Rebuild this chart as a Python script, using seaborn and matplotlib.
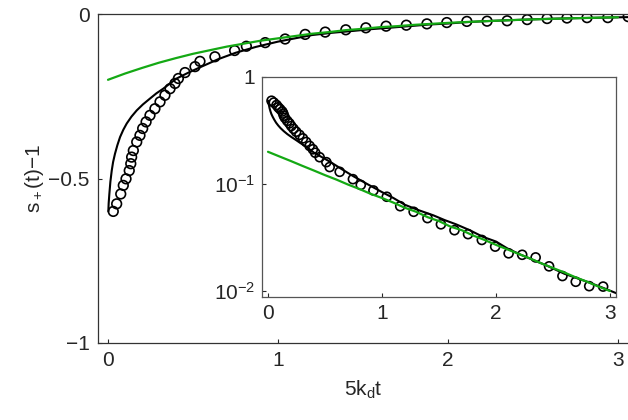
import numpy as np
import pandas as pd
import matplotlib
matplotlib.use("Agg")
import matplotlib.pyplot as plt
import seaborn as sns

# data (main panel shows s+(t)-1, inset shows 1-s+(t))
pts_x = [0.031, 0.051, 0.075, 0.090, 0.106, 0.125, 0.134, 0.139, 0.149, 0.169,
         0.188, 0.204, 0.224, 0.247, 0.276, 0.306, 0.335, 0.365, 0.394, 0.414,
         0.453, 0.512, 0.541, 0.629, 0.745, 0.814, 0.925, 1.042, 1.160, 1.278,
         1.399, 1.517, 1.636, 1.755, 1.876, 1.993, 2.111, 2.230, 2.348, 2.466,
         2.583, 2.700, 2.818, 2.940, 3.060]
pts_y = [-0.600, -0.577, -0.547, -0.521, -0.501, -0.476, -0.455, -0.435, -0.415, -0.389,
         -0.369, -0.348, -0.328, -0.308, -0.288, -0.267, -0.247, -0.227, -0.211, -0.196,
         -0.178, -0.160, -0.144, -0.130, -0.111, -0.098, -0.087, -0.076, -0.062, -0.055,
         -0.048, -0.042, -0.037, -0.034, -0.030, -0.026, -0.0225, -0.0218, -0.0206, -0.0170,
         -0.0138, -0.0122, -0.0111, -0.0110, -0.0080]

fit_x = [0.002, 0.004, 0.008, 0.014, 0.022, 0.030, 0.041, 0.055, 0.071, 0.090,
         0.110, 0.138, 0.169, 0.205, 0.247, 0.285, 0.325, 0.365, 0.404, 0.470,
         0.550, 0.650, 0.750, 0.870, 1.000, 1.100, 1.200, 1.320, 1.450, 1.550,
         1.650, 1.770, 1.888, 2.000, 2.100, 2.210, 2.327, 2.450, 2.600, 2.700,
         2.800, 2.930, 3.060]
fit_y = [-0.600, -0.575, -0.547, -0.510, -0.476, -0.450, -0.425, -0.399, -0.374, -0.352,
         -0.333, -0.312, -0.293, -0.275, -0.257, -0.241, -0.227, -0.211, -0.196, -0.179,
         -0.160, -0.137, -0.118, -0.100, -0.084, -0.074, -0.064, -0.057, -0.051, -0.046,
         -0.042, -0.037, -0.032, -0.029, -0.025, -0.022, -0.0195, -0.0172, -0.0145, -0.0133,
         -0.0122, -0.0108, -0.0095]

asym_x = [0.0, 0.1, 0.2, 0.3, 0.4, 0.5, 0.6, 0.7, 0.8, 0.9, 1.0,
          1.1, 1.2, 1.3, 1.4, 1.5, 1.6, 1.7, 1.8, 1.9, 2.0,
          2.1, 2.2, 2.3, 2.4, 2.5, 2.6, 2.7, 2.8, 2.9, 3.0]
asym_y = [-0.200, -0.181, -0.164, -0.148, -0.134, -0.121, -0.110, -0.099, -0.090, -0.081, -0.074,
          -0.067, -0.060, -0.055, -0.049, -0.045, -0.040, -0.037, -0.033, -0.030, -0.027,
          -0.0245, -0.0222, -0.0201, -0.0181, -0.0164, -0.0149, -0.0134, -0.0122, -0.0110, -0.0100]

pts = pd.DataFrame({"x": pts_x, "y": pts_y})
fit = pd.DataFrame({"x": fit_x, "y": fit_y})
asym = pd.DataFrame({"x": asym_x, "y": asym_y})
pts["ly"] = -pts["y"]
fit["ly"] = -fit["y"]
asym["ly"] = -asym["y"]

sns.set_style("ticks")
plt.rcParams["font.family"] = ["Liberation Sans", "DejaVu Sans"]
plt.rcParams["mathtext.fontset"] = "custom"
plt.rcParams["mathtext.rm"] = "Liberation Sans"
plt.rcParams["mathtext.it"] = "Liberation Sans"
plt.rcParams["axes.unicode_minus"] = True

green = "#14a914"
fs = 15

fig = plt.figure(figsize=(6.28, 4.2), dpi=100)
ax = fig.add_axes([98 / 628, 77 / 420, 1 - 98 / 628, 329 / 420])

sns.lineplot(data=fit, x="x", y="y", ax=ax, color="black", lw=1.5,
             sort=False, estimator=None)
sns.lineplot(data=asym, x="x", y="y", ax=ax, color=green, lw=1.6,
             sort=False, estimator=None)
sns.scatterplot(data=pts, x="x", y="y", ax=ax, s=48, marker="o",
                facecolor="none", edgecolor="black", linewidth=1.2)

ax.set_xlim(-0.0588, 3.059)
ax.set_ylim(-1, 0)
ax.set_xticks([0, 1, 2, 3])
ax.set_xticklabels(["0", "1", "2", "3"])
ax.set_yticks([-1, -0.5, 0])
ax.set_yticklabels(["\u22121", "\u22120.5", "0"])
ax.tick_params(direction="in", length=3, width=0.8, labelsize=fs, pad=6)
ax.spines["right"].set_visible(False)
for s in ["left", "bottom", "top"]:
    ax.spines[s].set_linewidth(0.9)
    ax.spines[s].set_color("#333333")
ax.set_xlabel(r"5k$_\mathregular{d}$t", fontsize=fs, labelpad=6)
ax.set_ylabel(r"s$_+$(t)$-$1", fontsize=fs, labelpad=2)

# inset on log scale
ins = fig.add_axes([262 / 628, 123 / 420, 354 / 628, 220 / 420])
ins.set_yscale("log")
sns.lineplot(data=fit, x="x", y="ly", ax=ins, color="black", lw=1.5,
             sort=False, estimator=None)
sns.lineplot(data=asym, x="x", y="ly", ax=ins, color=green, lw=1.6,
             sort=False, estimator=None)
sns.scatterplot(data=pts[pts["x"] < 3.0], x="x", y="ly", ax=ins, s=42, marker="o",
                facecolor="none", edgecolor="black", linewidth=1.2)
ins.set_xlim(-0.0526, 3.053)
ins.set_ylim(10 ** -2.056, 1)
ins.set_xticks([0, 1, 2, 3])
ins.set_xticklabels(["0", "1", "2", "3"])
ins.set_yticks([0.01, 0.1, 1])
ins.set_yticklabels([r"10$^{-2}$", r"10$^{-1}$", "1"])
ins.minorticks_off()
ins.tick_params(direction="in", length=3, width=0.8, labelsize=fs, pad=5)
ins.set_xlabel("")
ins.set_ylabel("")
for s in ins.spines.values():
    s.set_linewidth(0.9)
    s.set_color("#555555")

fig.savefig("out.png", dpi=100)
